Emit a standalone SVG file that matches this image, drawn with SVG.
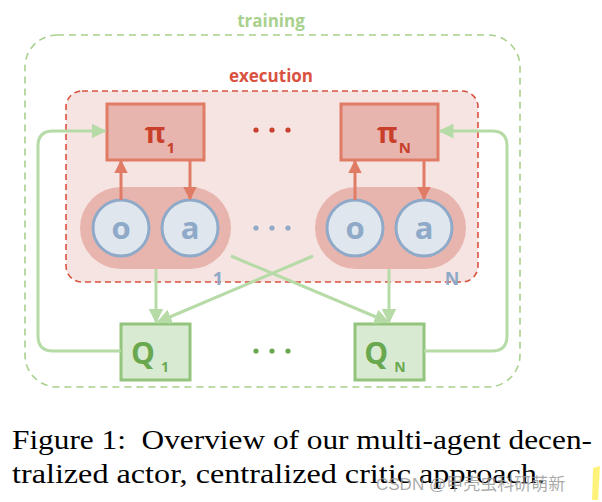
<svg xmlns="http://www.w3.org/2000/svg" width="602" height="502" viewBox="0 0 602 502">
<defs>
<style>
.lbl{font-family:"Open Sans","Liberation Sans",sans-serif;font-weight:bold}
.pibox{fill:#e8b5ae;stroke:#e07b65;stroke-width:3}
.qbox{fill:#d9ead3;stroke:#93c47d;stroke-width:3}
.pill{fill:#e8b5ae}
.circ{fill:#dfe6ee;stroke:#8fa9c8;stroke-width:3}
.red{stroke:#e07b65;stroke-width:3;fill:none}
.grn{stroke:#b6dba6;stroke-width:3;fill:none}
.cap{font-family:"Liberation Serif","Times New Roman",serif;font-size:28px;fill:#000}
</style>
<marker id="ar" viewBox="0 0 10 10" refX="9" refY="5" markerWidth="4.5" markerHeight="4.5" orient="auto" markerUnits="strokeWidth"><path d="M0,0 L10,5 L0,10 z" fill="#e07b65"/></marker>
<marker id="ag" viewBox="0 0 10 10" refX="9" refY="5" markerWidth="5" markerHeight="5" orient="auto" markerUnits="strokeWidth"><path d="M0,0 L10,5 L0,10 z" fill="#b6dba6"/></marker>
</defs>
<rect width="602" height="502" fill="#fff"/>

<g id="training">
<rect x="25" y="35" width="495" height="352" rx="32" fill="none" stroke="#a9d18e" stroke-width="1.6" stroke-dasharray="7,5"/>
<text class="lbl" x="271" y="27" font-size="17" fill="#a9d18e" text-anchor="middle">training</text>
</g>
<g id="execution">
<rect x="66" y="91" width="412" height="191" rx="16" fill="#f6e4e2" stroke="#d9513f" stroke-width="1.6" stroke-dasharray="6,4"/>
<text class="lbl" x="271" y="82" font-size="17" fill="#d9513f" text-anchor="middle">execution</text>
</g>

<g id="agent1">
<rect class="pill" x="80" y="187" width="151" height="82" rx="41"/>
<ellipse class="circ" cx="121" cy="228" rx="28" ry="28"/>
<ellipse class="circ" cx="190" cy="228" rx="28" ry="28"/>
<text class="lbl" x="121" y="239" font-size="31" fill="#8fa9c8" text-anchor="middle">o</text>
<text class="lbl" x="190" y="239" font-size="31" fill="#8fa9c8" text-anchor="middle">a</text>
<text class="lbl" x="218" y="285" font-size="18" fill="#8fa9c8" text-anchor="middle">1</text>
</g>
<g id="agentN">
<rect class="pill" x="315" y="187" width="151" height="82" rx="41"/>
<ellipse class="circ" cx="355" cy="228" rx="28" ry="28"/>
<ellipse class="circ" cx="424" cy="228" rx="28" ry="28"/>
<text class="lbl" x="355" y="239" font-size="31" fill="#8fa9c8" text-anchor="middle">o</text>
<text class="lbl" x="424" y="239" font-size="31" fill="#8fa9c8" text-anchor="middle">a</text>
<text class="lbl" x="452" y="285" font-size="18" fill="#8fa9c8" text-anchor="middle">N</text>
</g>

<g id="pi1">
<rect class="pibox" x="107" y="104" width="97" height="56"/>
<text class="lbl" x="160" y="143" font-size="28" fill="#c8402c" text-anchor="middle">π<tspan font-size="15" dx="1" dy="10">1</tspan></text>
</g>
<g id="piN">
<rect class="pibox" x="341" y="104" width="97" height="56"/>
<text class="lbl" x="394" y="143" font-size="28" fill="#c8402c" text-anchor="middle">π<tspan font-size="15" dx="1" dy="10">N</tspan></text>
</g>

<g id="Q1">
<rect class="qbox" x="121" y="324" width="69" height="56"/>
<text class="lbl" x="150" y="364" font-size="30" fill="#6aa84f" text-anchor="middle">Q<tspan font-size="14" dx="6" dy="8">1</tspan></text>
</g>
<g id="QN">
<rect class="qbox" x="355" y="324" width="69" height="56"/>
<text class="lbl" x="385" y="364" font-size="30" fill="#6aa84f" text-anchor="middle">Q<tspan font-size="14" dx="6" dy="8">N</tspan></text>
</g>

<g id="dots">
<g fill="#c8402c"><circle cx="256" cy="130" r="2.6"/><circle cx="272" cy="130" r="2.6"/><circle cx="288" cy="130" r="2.6"/></g>
<g fill="#8fa9c8"><circle cx="256" cy="228" r="2.6"/><circle cx="272" cy="228" r="2.6"/><circle cx="288" cy="228" r="2.6"/></g>
<g fill="#6aa84f"><circle cx="256" cy="351" r="2.6"/><circle cx="272" cy="351" r="2.6"/><circle cx="288" cy="351" r="2.6"/></g>
</g>

<g id="connectors">
<line class="red" x1="121" y1="200" x2="121" y2="161" marker-end="url(#ar)"/>
<line class="red" x1="190" y1="160" x2="190" y2="199" marker-end="url(#ar)"/>
<line class="red" x1="355" y1="200" x2="355" y2="161" marker-end="url(#ar)"/>
<line class="red" x1="424" y1="160" x2="424" y2="199" marker-end="url(#ar)"/>
<line class="grn" x1="156" y1="269" x2="156" y2="322" marker-end="url(#ag)"/>
<line class="grn" x1="389" y1="269" x2="389" y2="322" marker-end="url(#ag)"/>
<line class="grn" x1="231" y1="256" x2="388" y2="322" marker-end="url(#ag)"/>
<line class="grn" x1="313" y1="256" x2="158" y2="322" marker-end="url(#ag)"/>
<path class="grn" d="M121,351 H53 Q38,351 38,336 V146 Q38,131 53,131 H105" marker-end="url(#ag)"/>
<path class="grn" d="M424,351 H492 Q507,351 507,336 V146 Q507,131 492,131 H440" marker-end="url(#ag)"/>
</g>

<g id="caption">
<text class="cap" x="12" y="449" textLength="580" lengthAdjust="spacingAndGlyphs" xml:space="preserve">Figure 1:  Overview of our multi-agent decen-</text>
<text class="cap" x="12" y="483" textLength="533" lengthAdjust="spacingAndGlyphs">tralized actor, centralized critic approach.</text>
<text x="376" y="490" font-family="'Liberation Sans','Noto Sans CJK SC',sans-serif" font-size="17" fill="#9a9a9a" fill-opacity="0.85">CSDN @甲壳虫科研萌新</text>
<polygon points="593,468 600,466 598,500 592,500" fill="#fff27a"/>
</g>
</svg>
